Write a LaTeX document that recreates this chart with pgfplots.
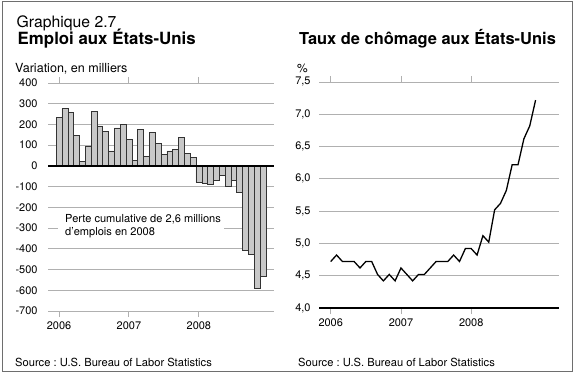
\documentclass[border=0pt]{standalone}
\usepackage{pgfplots}
\pgfplotsset{compat=1.18}
\usepackage{fontspec}
\setmainfont{TeX Gyre Heros}
\frenchspacing
\definecolor{barfill}{HTML}{C8C8C8}
\definecolor{gridc}{HTML}{B0B0B0}
\definecolor{framec}{HTML}{6E6E6E}
\begin{document}
\begin{tikzpicture}[x=1bp,y=1bp]
\useasboundingbox (0,0) rectangle (575,375);
\pgfplotsset{
  common/.style={
    scale only axis,
    anchor=south west,
    axis line style={draw=none},
    ymajorgrids,
    grid style={gridc, line width=0.9bp},
    tick align=outside,
    major tick length=6bp,
    ytick style={draw=none},
    xtick style={gridc, line width=0.9bp},
    xtick={0,12,24},
    xticklabels={2006,2007,2008},
    tick label style={font=\fontsize{11}{13}\selectfont},
    xticklabel style={yshift=-1bp},
  }
}
% Left chart
\begin{axis}[common,
  at={(48bp,64bp)}, width=226bp, height=228bp,
  xmin=-1.89, xmax=36.9, ymin=-700, ymax=400,
  ytick={-700,-600,...,400},
  yticklabels={-700,-600,-500,-400,-300,-200,-100,0,100,200,300,400},
  yticklabel style={xshift=-1bp},
]
\addplot[ybar, bar width=5.83bp, bar shift=0pt, fill=barfill, draw=black!80, line width=0.5bp]
 coordinates {(0,233) (1,276) (2,260) (3,147) (4,23) (5,95) (6,263) (7,193) (8,165) (9,73) (10,183) (11,199)
 (12,127) (13,28) (14,178) (15,46) (16,163) (17,108) (18,56) (19,73) (20,80) (21,139) (22,60) (23,41)
 (24,-78) (25,-85) (26,-90) (27,-69) (28,-47) (29,-100) (30,-68) (31,-129) (32,-408) (33,-424) (34,-591) (35,-532)};
\draw[black, line width=2.4bp] (axis cs:-1.89,0) -- (axis cs:36.9,0);
\end{axis}
% Right chart
\begin{axis}[common,
  at={(319bp,67bp)}, width=240bp, height=226bp,
  xmin=-2, xmax=39, ymin=4, ymax=7.5, clip=false,
  ytick={4,4.5,5,5.5,6,6.5,7,7.5},
  yticklabels={{4,0},{4,5},{5,0},{5,5},{6,0},{6,5},{7,0},{7,5}},
  yticklabel style={xshift=1bp},
]
\addplot[black, line width=1.3bp, mark=none]
 coordinates {(0,4.72) (1,4.82) (2,4.72) (3,4.72) (4,4.72) (5,4.62) (6,4.72) (7,4.72) (8,4.52) (9,4.42) (10,4.52) (11,4.42)
 (12,4.62) (13,4.52) (14,4.42) (15,4.52) (16,4.52) (17,4.62) (18,4.72) (19,4.72) (20,4.72) (21,4.82) (22,4.72) (23,4.92)
 (24,4.92) (25,4.82) (26,5.12) (27,5.02) (28,5.52) (29,5.62) (30,5.82) (31,6.22) (32,6.22) (33,6.62) (34,6.82) (35,7.22)};
\draw[black, line width=2.4bp] (axis cs:-2,4) -- (axis cs:39,4);
\end{axis}
% annotation box
\fill[white] (58,133) rectangle (224,165);
\node[anchor=base west, inner sep=0pt, font=\fontsize{11.1}{13}\selectfont] at (65,153) {Perte cumulative de 2,6 millions};
\node[anchor=base west, inner sep=0pt, font=\fontsize{11.1}{13}\selectfont] at (65,140) {d’emplois en 2008};
% titles
\node[anchor=base west, inner sep=0pt, font=\fontsize{15.8}{18}\selectfont] at (16.5,347.5) {Graphique 2.7};
\node[anchor=base west, inner sep=0pt, font=\fontsize{16.9}{19}\selectfont\bfseries] at (17.5,330.5) {Emploi aux États-Unis};
\node[anchor=base west, inner sep=0pt, font=\fontsize{16.5}{19}\selectfont\bfseries] at (299,330.5) {Taux de chômage aux États-Unis};
\node[anchor=base west, inner sep=0pt, font=\fontsize{12.6}{15}\selectfont] at (15,302.5) {Variation, en milliers};
\node[anchor=base west, inner sep=0pt, font=\fontsize{12}{14}\selectfont] at (297,303) {\%};
\node[anchor=base west, inner sep=0pt, font=\fontsize{11.2}{13}\selectfont] at (15,9) {Source : U.S. Bureau of Labor Statistics};
\node[anchor=base west, inner sep=0pt, font=\fontsize{11.2}{13}\selectfont] at (298,9) {Source : U.S. Bureau of Labor Statistics};
% frame
\draw[framec, line width=0.9bp] (2.3,4) rectangle (572.7,374);
\end{tikzpicture}
\end{document}
